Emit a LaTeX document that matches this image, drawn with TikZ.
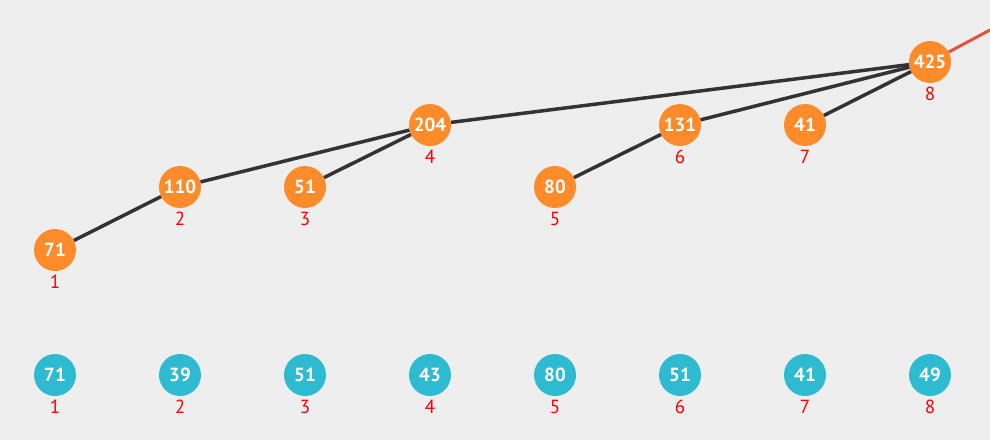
\documentclass[tikz,border=0pt]{standalone}
\usepackage{fontspec}
\setmainfont{PT Sans}
\usepackage{tikz}
\usetikzlibrary{positioning}
\definecolor{bgc}{HTML}{EEEEEE}
\definecolor{treec}{HTML}{FF8B2A}
\definecolor{leafc}{HTML}{2EBBD1}
\definecolor{edgec}{HTML}{333333}
\definecolor{linkc}{HTML}{E2523C}
\tikzset{
  tnode/.style={circle,fill=treec,text=white,minimum size=42pt,inner sep=0pt,
    font=\bfseries\fontsize{19}{19}\selectfont},
  lnode/.style={tnode,fill=leafc},
  idx/.style={text=red,inner sep=0pt,font=\fontsize{19}{19}\selectfont},
  tedge/.style={edgec,line width=3.5pt}
}

\begin{document}
\begin{tikzpicture}[x=1pt,y=-1pt]
\fill[bgc] (0,0) rectangle (990,440);
\useasboundingbox (0,0) rectangle (990,440);
% tree array
\foreach \i/\v/\y in {1/71/250,2/110/187,3/51/187,4/204/125,5/80/187,6/131/125,7/41/125,8/425/62}{
  \node[tnode] (t\i) at ({55+125*(\i-1)},\y) {\v};
  \node[idx,below=4pt of t\i] (ti\i) {\i};
}
\draw[tedge] (t1)--(t2);
\draw[tedge] (t2)--(t4);
\draw[tedge] (t3)--(t4);
\draw[tedge] (t4)--(t8);
\draw[tedge] (t5)--(t6);
\draw[tedge] (t6)--(t8);
\draw[tedge] (t7)--(t8);
\coordinate (up) at (990,30);
\draw[linkc,line width=3pt] (t8)--(up);
% input array
\foreach \v [count=\i] in {71,39,51,43,80,51,41,49}{
  \node[lnode] (a\i) at ({55+125*(\i-1)},375) {\v};
  \node[idx,below=4pt of a\i] (ai\i) {\i};
}
\end{tikzpicture}
\end{document}
